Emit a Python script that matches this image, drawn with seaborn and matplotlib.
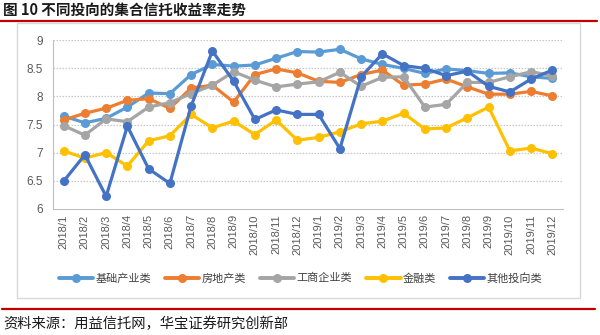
import matplotlib
matplotlib.use("Agg")
import matplotlib.pyplot as plt
from matplotlib.lines import Line2D
from matplotlib.patches import Rectangle
import numpy as np
import pandas as pd
import seaborn as sns

months = ["2018/1", "2018/2", "2018/3", "2018/4", "2018/5", "2018/6",
          "2018/7", "2018/8", "2018/9", "2018/10", "2018/11", "2018/12",
          "2019/1", "2019/2", "2019/3", "2019/4", "2019/5", "2019/6",
          "2019/7", "2019/8", "2019/9", "2019/10", "2019/11", "2019/12"]

infrastructure = [7.65, 7.53, 7.61, 7.81, 8.06, 8.05, 8.39, 8.57, 8.54, 8.56, 8.68, 8.80,
                  8.79, 8.84, 8.67, 8.57, 8.50, 8.41, 8.49, 8.46, 8.41, 8.42, 8.35, 8.32]
real_estate = [7.58, 7.70, 7.79, 7.93, 7.96, 7.79, 8.15, 8.20, 7.90, 8.39, 8.49, 8.42,
               8.27, 8.25, 8.39, 8.47, 8.20, 8.22, 8.31, 8.17, 8.04, 8.04, 8.09, 8.01]
industrial = [7.48, 7.31, 7.60, 7.55, 7.81, 7.89, 8.05, 8.20, 8.44, 8.29, 8.17, 8.22,
              8.26, 8.43, 8.18, 8.34, 8.35, 7.81, 7.86, 8.25, 8.25, 8.35, 8.44, 8.37]
financial = [7.03, 6.90, 7.00, 6.76, 7.21, 7.30, 7.68, 7.44, 7.56, 7.32, 7.58, 7.22,
             7.27, 7.37, 7.51, 7.56, 7.70, 7.42, 7.44, 7.62, 7.81, 7.03, 7.08, 6.98]
other = [6.49, 6.96, 6.22, 7.47, 6.71, 6.45, 7.83, 8.81, 8.27, 7.59, 7.76, 7.68,
         7.68, 7.07, 8.35, 8.76, 8.55, 8.50, 8.37, 8.45, 8.18, 8.08, 8.31, 8.47]

series_names = ["基础产业类", "房地产类", "工商企业类", "金融类", "其他投向类"]
series_values = [infrastructure, real_estate, industrial, financial, other]
colors = ["#5B9BD5", "#ED7D31", "#A5A5A5", "#FFC000", "#4472C4"]

y_ticks = [6, 6.5, 7, 7.5, 8, 8.5, 9]

title_text = "图 10 不同投向的集合信托收益率走势"
source_text = "资料来源：用益信托网，华宝证券研究创新部"

# long-format table for seaborn
frames = []
for name, vals in zip(series_names, series_values):
    frames.append(pd.DataFrame({"pos": np.arange(len(months)),
                                "month": months,
                                "value": vals,
                                "series": name}))
df = pd.concat(frames, ignore_index=True)

sns.set_style("white")
plt.rcParams["font.family"] = ["Liberation Sans", "Noto Sans CJK SC", "DejaVu Sans"]
cjk = ["Noto Sans CJK SC", "DejaVu Sans"]

fig = plt.figure(figsize=(6.0, 3.35), dpi=100)
ax = fig.add_axes([53 / 600, 1 - 208.7 / 335, (563 - 53) / 600, (208.7 - 40.3) / 335])

sns.lineplot(data=df, x="pos", y="value", hue="series", hue_order=series_names,
             palette=dict(zip(series_names, colors)), marker="o", markersize=6.5,
             markeredgewidth=0, linewidth=2.3, sort=False, legend=False, ax=ax)

ax.set_xlim(-0.5, len(months) - 0.5)
ax.set_ylim(6, 9)
ax.set_xlabel("")
ax.set_ylabel("")

# category ticks: labels at centres, tick marks at boundaries
ax.set_xticks(np.arange(len(months)))
ax.set_xticklabels(months, rotation=90, fontsize=8, color="#595959")
ax.set_xticks(np.arange(len(months) + 1) - 0.5, minor=True)
ax.tick_params(axis="x", which="major", length=0, pad=4)
ax.tick_params(axis="x", which="minor", length=4, width=0.8, color="#BFBFBF", direction="out")

ax.set_yticks(y_ticks)
ax.set_yticklabels([f"{v:g}" for v in y_ticks], fontsize=8.5, color="#595959")
ax.tick_params(axis="y", length=4, width=0.8, color="#BFBFBF", direction="out", pad=3)

ax.grid(False)
for v in y_ticks[1:]:
    ax.axhline(v, color="#C8C8C8", linewidth=0.9, linestyle=(0, (1.2, 1.2)), zorder=0)

for side in ["top", "right"]:
    ax.spines[side].set_visible(False)
for side in ["left", "bottom"]:
    ax.spines[side].set_color("#BFBFBF")
    ax.spines[side].set_linewidth(0.8)

# legend below the axis
handles = [Line2D([0], [0], color=c, linewidth=2.8, marker="o", markersize=6.5,
                  markeredgewidth=0) for c in colors]
fig.legend(handles, series_names, loc="center", bbox_to_anchor=(300.5 / 600, 1 - 278 / 335),
           ncol=5, frameon=False, handlelength=3.1, handletextpad=0.2, columnspacing=1.25,
           prop={"family": cjk, "size": 8}, labelcolor="#404040", numpoints=1)

# outer chart frame
fig.patches.append(Rectangle((16.7 / 600, 1 - 298 / 335), (580 - 16.7) / 600, (298 - 22.7) / 335,
                             transform=fig.transFigure, fill=False,
                             edgecolor="#D9D9D9", linewidth=1.0))

# header and footer rules
fig.add_artist(Line2D([0, 597 / 600], [1 - 21 / 335] * 2, transform=fig.transFigure,
                      color="#C00000", linewidth=1.6))
fig.add_artist(Line2D([2 / 600, 595 / 600], [1 - 309 / 335] * 2, transform=fig.transFigure,
                      color="#C00000", linewidth=1.6))

fig.text(3 / 600, 1 - 9.5 / 335, title_text, family=cjk, fontsize=10.5,
         fontweight="bold", color="#1a1a1a", ha="left", va="center")
fig.text(3 / 600, 1 - 324 / 335, source_text, family=cjk, fontsize=10.3,
         color="#1a1a1a", ha="left", va="center")

fig.savefig("out.png", dpi=100)
